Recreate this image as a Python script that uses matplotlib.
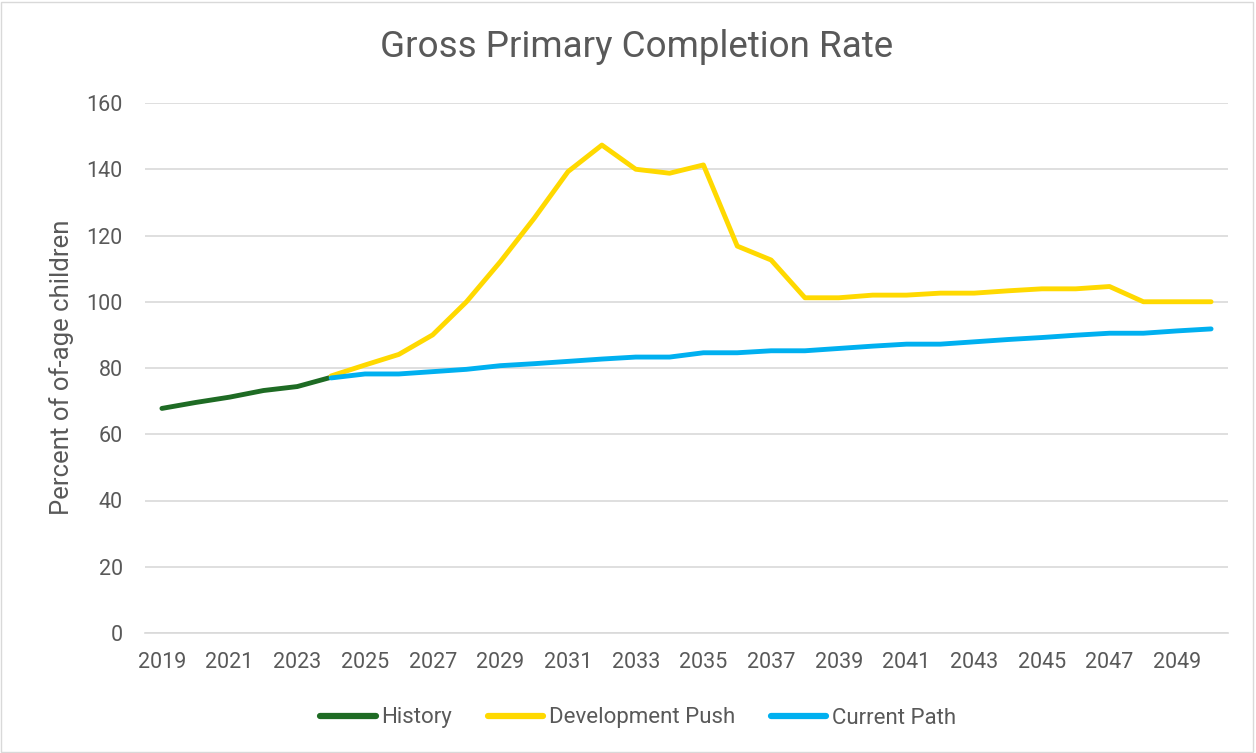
import matplotlib.pyplot as plt
import numpy as np

# values
hist_years = list(range(2019, 2025))
history = [67.8, 69.6, 71.2, 73.2, 74.4, 77.2]

proj_years = list(range(2024, 2051))
development_push = [77.6, 80.9, 84.1, 90.0, 100.0, 112.1, 125.2, 139.3, 147.3, 140.0,
                    138.8, 141.3, 116.8, 112.6, 101.2, 101.2, 102.0, 102.0, 102.6, 102.6,
                    103.3, 103.9, 103.9, 104.6, 100.0, 100.0, 100.0]
current_path = [77.0, 78.2, 78.2, 78.9, 79.6, 80.7, 81.3, 82.0, 82.7, 83.3,
                83.3, 84.6, 84.6, 85.2, 85.2, 85.9, 86.6, 87.2, 87.2, 87.9,
                88.6, 89.2, 89.9, 90.5, 90.5, 91.2, 91.8]

tick_years = list(range(2019, 2050, 2))
y_ticks = list(range(0, 161, 20))

text_col = '#595959'
grid_col = '#D9D9D9'

plt.rcParams['font.family'] = ['Roboto', 'DejaVu Sans']

fig = plt.figure(figsize=(12.56, 7.53), dpi=100)
ax = fig.add_axes([145 / 1256, 1 - 633 / 753, (1228 - 145) / 1256, (633 - 103) / 753])

ax.plot(hist_years, history, color='#1E6B24', lw=3.5, solid_capstyle='round', label='History', zorder=3)
ax.plot(proj_years, development_push, color='#FFD900', lw=3.5, solid_capstyle='round', label='Development Push', zorder=3)
ax.plot(proj_years, current_path, color='#00B0F0', lw=3.5, solid_capstyle='round', label='Current Path', zorder=4)

ax.set_xlim(2018.5, 2050.5)
ax.set_ylim(0, 160)
ax.set_xticks(tick_years)
ax.set_xticklabels([str(y) for y in tick_years])
ax.set_yticks(y_ticks)
ax.tick_params(axis='both', length=0, labelsize=15.5, colors=text_col)
ax.tick_params(axis='x', pad=14)
ax.tick_params(axis='y', pad=16)

ax.grid(axis='y', color=grid_col, lw=1.2)
ax.set_axisbelow(True)
for s in ['top', 'right', 'left']:
    ax.spines[s].set_visible(False)
ax.spines['bottom'].set_color(grid_col)
ax.spines['bottom'].set_linewidth(1.2)

fig.text(62 / 1256, 1 - 367 / 753, 'Percent of of-age children', rotation=90,
         ha='center', va='center', fontsize=18.5, color=text_col)
fig.text(637 / 1256, 1 - 47 / 753, 'Gross Primary Completion Rate', ha='center', va='center',
         fontsize=26.5, color=text_col)

leg = fig.legend(loc='center', bbox_to_anchor=(638 / 1256, 1 - 718 / 753), ncol=3, frameon=False,
                 fontsize=16, handlelength=2.5, handletextpad=0.25, columnspacing=1.6)
for t in leg.get_texts():
    t.set_color(text_col)
for h in leg.get_lines():
    h.set_linewidth(4.5)
    h.set_solid_capstyle('round')

# light chart-area border
fig.patches.append(plt.Rectangle((0.001, 0.001), 0.997, 0.997, transform=fig.transFigure,
                                 fill=False, edgecolor=grid_col, lw=1))

fig.savefig('out.png', dpi=100)
